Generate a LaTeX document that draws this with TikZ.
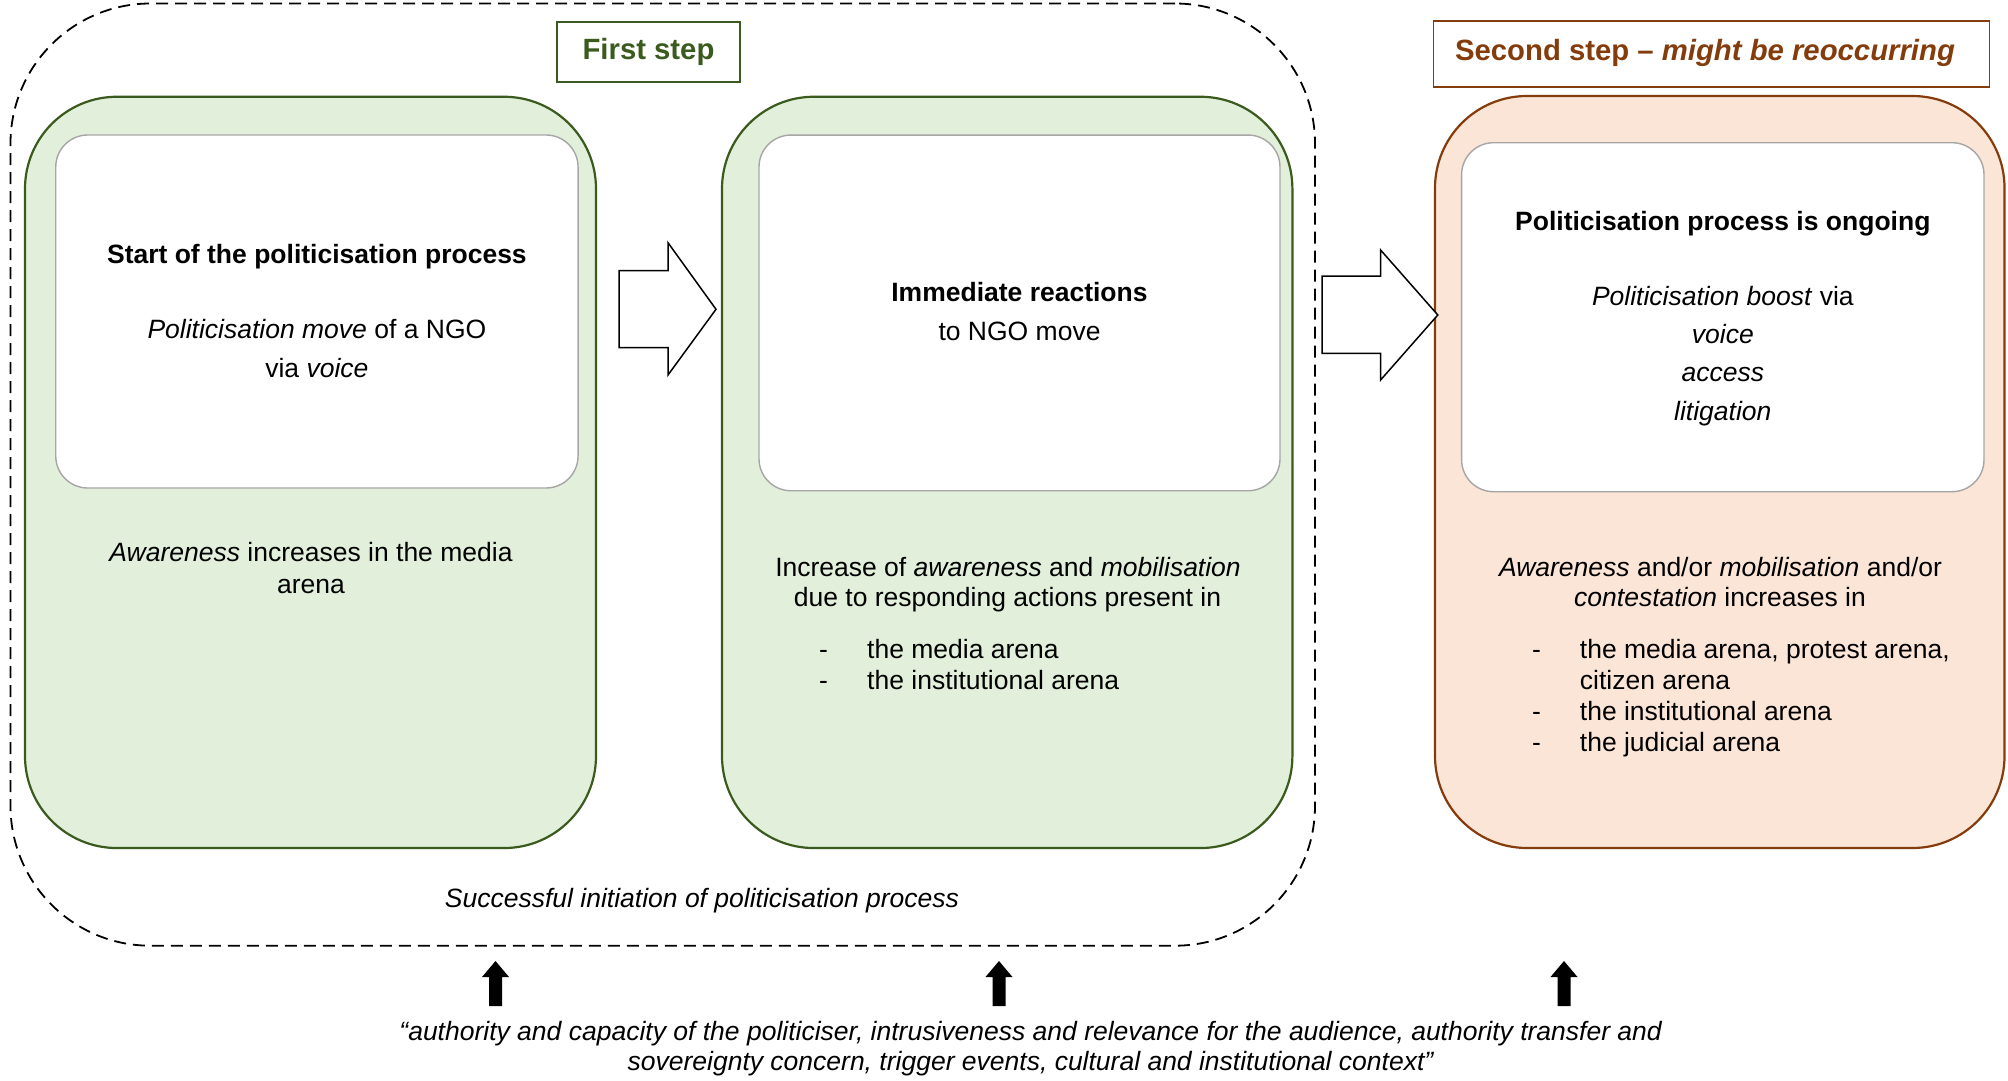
\documentclass[tikz,border=0pt]{standalone}
\usepackage{fontspec}
\setmainfont{Liberation Sans}
\usetikzlibrary{calc}
\definecolor{greenfill}{HTML}{E2EFDA}
\definecolor{greenline}{HTML}{3A5A1E}
\definecolor{orangefill}{HTML}{FBE5D6}
\definecolor{brownline}{HTML}{843C0C}
\definecolor{innerline}{HTML}{A6A6A6}
\tikzset{
  stagebox/.style={draw=#1, line width=2.2pt, rounded corners=92pt},
  innerbox/.style={draw=innerline, fill=white, line width=1.4pt, rounded corners=32pt},
  titlebox/.style={draw=#1, text=#1, line width=1.8pt, font=\fontsize{29.3}{34}\selectfont\bfseries},
  body/.style={font=\fontsize{26.5}{32}\selectfont, inner sep=0pt, anchor=base},
  bodyl/.style={body, anchor=base west},
  blockarrow/.style={draw=black, fill=white, line width=1.5pt, line join=miter},
  pusharrow/.style={fill=black},
}
\begin{document}
\begin{tikzpicture}[x=1pt, y=1pt]
\useasboundingbox (0,0) rectangle (2008,-1081);

% dashed frame around the first step
\node[draw, dashed, dash pattern=on 12pt off 7pt, line width=1.8pt, rounded corners=140pt,
      minimum width=1304.5, minimum height=942.2, inner sep=0pt] (frame) at (662.75,-474.6) {};

% step labels
\node[titlebox=greenline, minimum width=183, minimum height=60, inner sep=0pt] (first) at (648.5,-51.7) {First step};
\node[titlebox=brownline, minimum width=556, minimum height=66, inner sep=0pt] (second) at (1711.5,-53.7) {};
\node[titlebox=brownline, draw=none, inner sep=0pt, anchor=base] (secondtxt) at (1705,-60) {Second step -- \textit{might be reoccurring}};

% stage boxes
\node[stagebox=greenline, fill=greenfill, minimum width=571, minimum height=751.3, inner sep=0pt] (b1) at (310.5,-472.4) {};
\node[stagebox=greenline, fill=greenfill, minimum width=570.4, minimum height=751.3, inner sep=0pt] (b2) at (1007.2,-472.4) {};
\node[stagebox=brownline, fill=orangefill, minimum width=569.5, minimum height=752, inner sep=0pt] (b3) at (1719.75,-472) {};

% inner white boxes
\node[innerbox, minimum width=522.3, minimum height=353, inner sep=0pt] (i1) at (316.9,-311.5) {};
\node[innerbox, minimum width=521, minimum height=355.7, inner sep=0pt] (i2) at (1019.5,-312.9) {};
\node[innerbox, minimum width=522.4, minimum height=349, inner sep=0pt] (i3) at (1722.8,-317.2) {};

% block arrows between the stages
\draw[blockarrow] (619,-270.7) -- (668,-270.7) -- (668,-242.7) -- (716,-309.3)
  -- (668,-375) -- (668,-347.7) -- (619,-347.7) -- cycle;
\draw[blockarrow] (1322,-276) -- (1380.6,-276) -- (1380.6,-250) -- (1437.8,-315)
  -- (1380.6,-380) -- (1380.6,-353.3) -- (1322,-353.3) -- cycle;

% stage 1 texts
\node[body] (t1a) at (316.9,-263) {\bfseries Start of the politicisation process};
\node[body] (t1b) at (316.9,-338) {\textit{Politicisation move} of a NGO};
\node[body] (t1c) at (316.9,-377) {via \textit{voice}};
\node[body] (t1d) at (311,-561) {\textit{Awareness} increases in the media};
\node[body] (t1e) at (311,-593) {arena};

% stage 2 texts
\node[body] (t2a) at (1019.5,-301.7) {\bfseries Immediate reactions};
\node[body] (t2b) at (1019.5,-340) {to NGO move};
\node[body] (t2c) at (1008,-576) {Increase of \textit{awareness} and \textit{mobilisation}};
\node[body] (t2d) at (1007.5,-606.5) {due to responding actions present in};
\node[bodyl] (t2e) at (819,-658) {-};
\node[bodyl] (t2f) at (867,-658) {the media arena};
\node[bodyl] (t2g) at (819,-689) {-};
\node[bodyl] (t2h) at (867,-689) {the institutional arena};

% stage 3 texts
\node[body] (t3a) at (1722.8,-230) {\bfseries Politicisation process is ongoing};
\node[body] (t3b) at (1722.8,-305) {\textit{Politicisation boost} via};
\node[body] (t3c) at (1722.8,-343) {\textit{voice}};
\node[body] (t3d) at (1722.8,-381.7) {\textit{access}};
\node[body] (t3e) at (1722.8,-420.7) {\textit{litigation}};
\node[body] (t3f) at (1720.5,-576) {\textit{Awareness} and/or \textit{mobilisation} and/or};
\node[body] (t3g) at (1720,-606.5) {\textit{contestation} increases in};
\node[bodyl] (t3h) at (1532,-658) {-};
\node[bodyl] (t3i) at (1579.7,-658) {the media arena, protest arena,};
\node[bodyl] (t3j) at (1579.7,-689) {citizen arena};
\node[bodyl] (t3k) at (1532,-720) {-};
\node[bodyl] (t3l) at (1579.7,-720) {the institutional arena};
\node[bodyl] (t3m) at (1532,-751) {-};
\node[bodyl] (t3n) at (1579.7,-751) {the judicial arena};

% caption of the dashed frame
\node[body] (cap) at (702,-907) {\textit{Successful initiation of politicisation process}};

% small upward arrows
\foreach \x/\n in {495.5/u1, 999/u2, 1564/u3} {
  \coordinate (\n) at (\x,-961);
  \fill[pusharrow] ($(\n)+(-6.5,-45)$) -- ($(\n)+(-6.5,-16)$) -- ($(\n)+(-13.5,-16)$)
    -- (\n) -- ($(\n)+(13.5,-16)$) -- ($(\n)+(6.5,-16)$) -- ($(\n)+(6.5,-45)$) -- cycle;
}

% factors listed under the arrows
\node[body] (q1) at (1031,-1040) {\textit{“authority and capacity of the politiciser, intrusiveness and relevance for the audience, authority transfer and}};
\node[body] (q2) at (1031,-1070) {\textit{sovereignty concern, trigger events, cultural and institutional context”}};
\end{tikzpicture}
\end{document}
